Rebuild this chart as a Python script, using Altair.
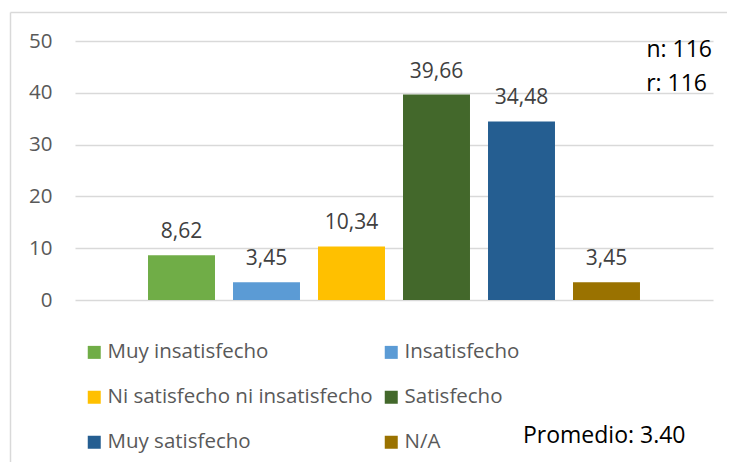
import altair as alt
import pandas as pd

categories = ["Muy insatisfecho", "Insatisfecho", "Ni satisfecho ni insatisfecho",
              "Satisfecho", "Muy satisfecho", "N/A"]
values = [8.62, 3.45, 10.34, 39.66, 34.48, 3.45]
colors = ["#70AD47", "#5B9BD5", "#FFC000", "#43682B", "#255E91", "#9A7200"]
y_ticks = [0, 10, 20, 30, 40, 50]
n_text = "n: 116"
r_text = "r: 116"
avg_text = "Promedio: 3.40"

df = pd.DataFrame({
    "cat": categories,
    "val": values,
    "label": [f"{v:.2f}".replace(".", ",") for v in values],
})

FONT = "Open Sans"
W, H = 638, 259
PAD_L, PAD_T, PAD_R, PAD_B = 67, 33, 14, 162
GRID = "#d9d9d9"

x = alt.X("cat:N", sort=categories, axis=None,
          scale=alt.Scale(paddingInner=0.212, paddingOuter=0.859))
y = alt.Y("val:Q", scale=alt.Scale(domain=[0, 50]),
          axis=alt.Axis(values=y_ticks, title=None, grid=True, gridColor=GRID,
                        gridWidth=1.5, domain=False, ticks=False, labelPadding=23,
                        labelFontSize=20.5, labelColor="#595959", labelFont=FONT))

bars = alt.Chart(df).mark_bar().encode(
    x=x, y=y,
    color=alt.Color("cat:N", sort=categories,
                    scale=alt.Scale(domain=categories, range=colors),
                    legend=alt.Legend(title=None, orient="none", legendX=9, legendY=301,
                                      columns=2, direction="horizontal",
                                      symbolType="square", symbolSize=169,
                                      symbolStrokeWidth=0, labelFontSize=20.5,
                                      labelFont=FONT, labelColor="#595959",
                                      labelOffset=3, rowPadding=24, columnPadding=8,
                                      labelLimit=400, padding=0, gridAlign="each")),
)

labels = alt.Chart(df).mark_text(dy=-17, baseline="alphabetic", fontSize=21,
                                 color="#404040", font=FONT).encode(
    x=x, y=y, text="label:N")

n_layer = alt.Chart(pd.DataFrame({"t": [n_text]})).mark_text(
    align="right", baseline="alphabetic", fontSize=23, color="#000000", font=FONT
).encode(text="t:N", x=alt.value(637), y=alt.value(16))
r_layer = alt.Chart(pd.DataFrame({"t": [r_text]})).mark_text(
    align="right", baseline="alphabetic", fontSize=23, color="#000000", font=FONT
).encode(text="t:N", x=alt.value(632), y=alt.value(50))
avg_layer = alt.Chart(pd.DataFrame({"t": [avg_text]})).mark_text(
    align="left", baseline="alphabetic", fontSize=23, color="#000000", font=FONT
).encode(text="t:N", x=alt.value(448), y=alt.value(402))

frame_df = pd.DataFrame({"k": [0]})
left_border = alt.Chart(frame_df).mark_rule(color=GRID, strokeWidth=1.5).encode(
    x=alt.value(-64.5), y=alt.value(-28.5), y2=alt.value(H + PAD_B))
top_border = alt.Chart(frame_df).mark_rule(color=GRID, strokeWidth=1.5).encode(
    x=alt.value(-64.5), x2=alt.value(W + PAD_R), y=alt.value(-28.5))

chart = alt.layer(left_border, top_border, bars, labels, n_layer, r_layer, avg_layer).properties(
    width=W, height=H,
    autosize=alt.AutoSizeParams(type="none"),
    padding={"left": PAD_L, "top": PAD_T, "right": PAD_R, "bottom": PAD_B},
).configure_view(stroke=None)

chart.save("out.html", embed_options={"renderer": "svg", "actions": False})
